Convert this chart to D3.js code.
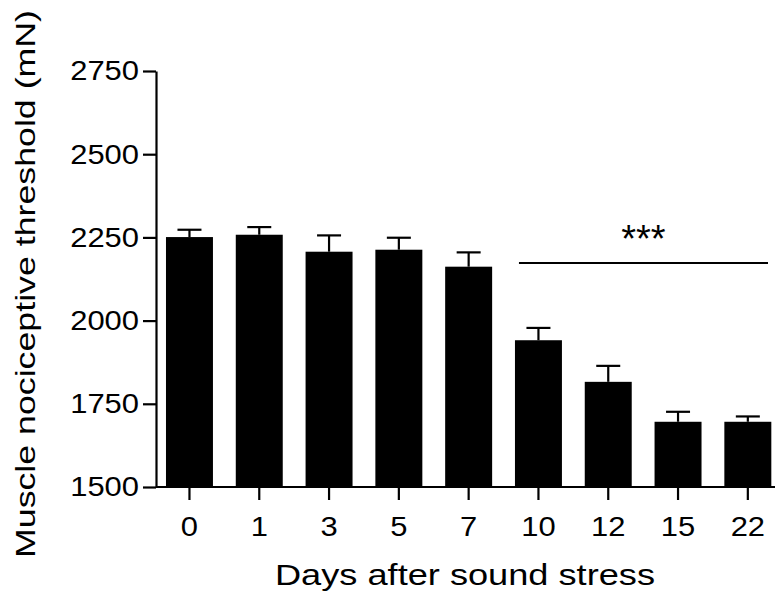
<!DOCTYPE html>
<html>
<head>
<meta charset="utf-8">
<script src="https://cdn.jsdelivr.net/npm/d3@7/dist/d3.min.js"></script>
<style>
  html, body { margin: 0; padding: 0; background: #fff; }
  svg { display: block; font-family: "Liberation Sans", Arial, Helvetica, sans-serif; }
</style>
</head>
<body>
<svg id="chart" width="775" height="596"></svg>
<script>
const categories = ["0", "1", "3", "5", "7", "10", "12", "15", "22"];
const means = [2251, 2258, 2207, 2213, 2162, 1941, 1816, 1696, 1696];
const sems  = [22, 23, 49, 36, 43, 37, 48, 30, 16];
const yTicks = [1500, 1750, 2000, 2250, 2500, 2750];
const sigGroup = ["10", "22"];
const sigLabel = "***";
const xTitle = "Days after sound stress";
const yTitle = "Muscle nociceptive threshold (mN)";

const svg = d3.select("#chart");
const x0 = 156, yBase = 487, yTop = 71;

const x = d3.scaleBand().domain(categories)
  .range([x0, 781.3]).paddingInner(0.327).paddingOuter(0.143);
const y = d3.scaleLinear().domain([1500, 2750]).range([yBase, yTop]);

// bars
svg.append("g").selectAll("rect").data(categories).join("rect")
  .attr("x", d => x(d))
  .attr("width", x.bandwidth())
  .attr("y", (d, i) => y(means[i]))
  .attr("height", (d, i) => yBase - y(means[i]))
  .attr("fill", "#000");

// error bars (upper)
const eb = svg.append("g").attr("stroke", "#000").attr("stroke-width", 2.2);
categories.forEach((c, i) => {
  const cx = x(c) + x.bandwidth() / 2;
  eb.append("line").attr("x1", cx).attr("x2", cx)
    .attr("y1", y(means[i])).attr("y2", y(means[i] + sems[i]));
  eb.append("line").attr("x1", cx - 12).attr("x2", cx + 12)
    .attr("y1", y(means[i] + sems[i])).attr("y2", y(means[i] + sems[i]));
});

// y axis
const yAxis = svg.append("g").attr("transform", `translate(${x0},0)`)
  .call(d3.axisLeft(y).tickValues(yTicks).tickFormat(d3.format("d"))
    .tickSize(13).tickPadding(4).tickSizeOuter(0));
yAxis.select(".domain").attr("stroke", "#000").attr("stroke-width", 2.2);
yAxis.selectAll(".tick line").attr("stroke", "#000").attr("stroke-width", 2.2);
yAxis.selectAll(".tick text")
  .attr("font-size", 28).attr("fill", "#000")
  .attr("font-family", "'Liberation Sans', Arial, sans-serif")
  .attr("textLength", d => String(d).length * 17.2)
  .attr("lengthAdjust", "spacingAndGlyphs");

// x axis
const xAxis = svg.append("g").attr("transform", `translate(0,${yBase})`)
  .call(d3.axisBottom(x).tickSize(13).tickPadding(16).tickSizeOuter(0));
xAxis.select(".domain").attr("stroke", "#000").attr("stroke-width", 2.2)
  .attr("d", `M${x0},0H775`);
xAxis.selectAll(".tick line").attr("stroke", "#000").attr("stroke-width", 2.2);
xAxis.selectAll(".tick text")
  .attr("font-size", 28).attr("fill", "#000")
  .attr("font-family", "'Liberation Sans', Arial, sans-serif")
  .attr("textLength", d => String(d).length * 17.2)
  .attr("lengthAdjust", "spacingAndGlyphs");

// significance line and stars
const sx1 = x(sigGroup[0]) + 4, sx2 = 768;
const sy = 263;
svg.append("line").attr("x1", sx1).attr("x2", sx2).attr("y1", sy).attr("y2", sy)
  .attr("stroke", "#000").attr("stroke-width", 2.2);
svg.append("text").attr("x", (sx1 + sx2) / 2).attr("y", 252)
  .attr("text-anchor", "middle").attr("font-size", 38).text(sigLabel);

// titles
svg.append("text").attr("x", 465).attr("y", 585).attr("text-anchor", "middle")
  .attr("font-size", 30).attr("textLength", 380).attr("lengthAdjust", "spacingAndGlyphs")
  .text(xTitle);
svg.append("text").attr("transform", "translate(35,284) rotate(-90)")
  .attr("text-anchor", "middle").attr("font-size", 28)
  .attr("textLength", 548).attr("lengthAdjust", "spacingAndGlyphs")
  .text(yTitle);
</script>
</body>
</html>
